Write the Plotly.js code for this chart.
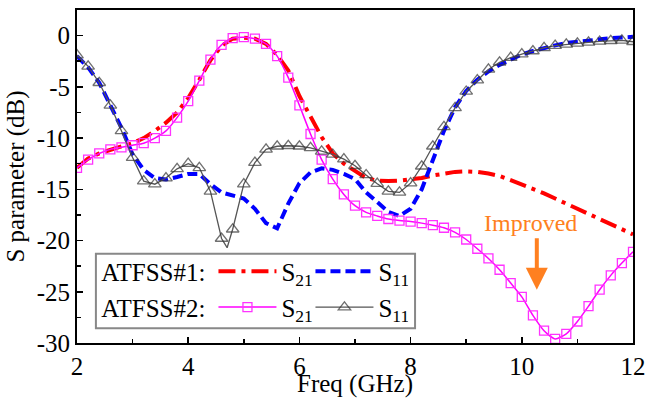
<!DOCTYPE html>
<html>
<head>
<meta charset="utf-8">
<script src="https://cdn.plot.ly/plotly-3.0.1.min.js"></script>
<style>
html,body{margin:0;padding:0;background:#fff;}
#chart{width:658px;height:398px;}
</style>
</head>
<body>
<div id="chart"></div>
<script>
// Frequency grid (GHz), markers every 0.2 GHz
const freq = [2.0,2.2,2.4,2.6,2.8,3.0,3.2,3.4,3.6,3.8,4.0,4.2,4.4,4.6,4.8,5.0,5.2,5.4,5.6,5.8,6.0,6.2,6.4,6.6,6.8,7.0,7.2,7.4,7.6,7.8,8.0,8.2,8.4,8.6,8.8,9.0,9.2,9.4,9.6,9.8,10.0,10.2,10.4,10.6,10.8,11.0,11.2,11.4,11.6,11.8,12.0];

// ATFSS#1 S21 (dB)
const s21_1 = [-12.9,-12.0,-11.5,-11.1,-10.8,-10.5,-10.0,-9.3,-8.5,-7.5,-6.1,-4.3,-2.4,-1.0,-0.3,-0.2,-0.3,-0.8,-1.9,-3.4,-5.9,-7.9,-9.9,-11.5,-12.5,-13.2,-13.9,-14.15,-14.2,-14.15,-14.05,-13.9,-13.65,-13.45,-13.3,-13.25,-13.3,-13.45,-13.7,-14.1,-14.5,-14.95,-15.4,-15.9,-16.4,-16.95,-17.5,-18.0,-18.5,-18.95,-19.4];

// ATFSS#1 S11 (dB)
const s11_1 = [-2.0,-3.1,-4.6,-6.7,-9.0,-11.6,-13.1,-13.9,-14.05,-13.8,-13.5,-13.5,-14.5,-15.3,-15.6,-15.9,-16.9,-18.3,-18.8,-16.4,-14.4,-13.35,-12.95,-13.1,-13.5,-14.0,-15.3,-16.3,-17.2,-17.6,-16.9,-15.0,-12.2,-9.3,-7.0,-5.4,-4.3,-3.5,-2.85,-2.3,-1.85,-1.5,-1.2,-0.95,-0.72,-0.58,-0.45,-0.33,-0.25,-0.18,-0.12];

// ATFSS#2 S21 (dB)
const s21_2 = [-12.9,-12.1,-11.5,-11.1,-10.9,-10.7,-10.5,-10.0,-9.3,-8.0,-6.4,-4.4,-2.35,-0.9,-0.25,-0.15,-0.3,-0.8,-2.0,-4.1,-6.8,-9.6,-12.1,-14.0,-15.5,-16.6,-17.25,-17.6,-17.9,-18.05,-18.15,-18.3,-18.5,-18.75,-19.2,-19.9,-20.8,-21.75,-22.85,-24.15,-25.5,-27.3,-28.8,-29.6,-29.1,-27.9,-26.4,-24.8,-23.4,-22.2,-21.1];

// ATFSS#2 S11 (dB); extra frequency 4.7 GHz is the sharp dip between markers
const freq_s11_2 = [2.0,2.2,2.4,2.6,2.8,3.0,3.2,3.4,3.6,3.8,4.0,4.2,4.4,4.6,4.7,4.8,5.0,5.2,5.4,5.6,5.8,6.0,6.2,6.4,6.6,6.8,7.0,7.2,7.4,7.6,7.8,8.0,8.2,8.4,8.6,8.8,9.0,9.2,9.4,9.6,9.8,10.0,10.2,10.4,10.6,10.8,11.0,11.2,11.4,11.6,11.8,12.0];
const s11_2 = [-1.9,-3.0,-4.6,-6.8,-9.3,-11.9,-14.2,-14.5,-13.9,-13.0,-12.5,-12.9,-15.2,-19.8,-20.7,-18.9,-14.5,-12.4,-11.1,-10.8,-10.75,-10.8,-10.95,-11.3,-11.6,-12.05,-12.7,-13.6,-14.45,-15.2,-15.3,-14.4,-12.75,-10.8,-8.9,-7.05,-5.45,-4.35,-3.3,-2.6,-2.15,-1.8,-1.5,-1.2,-0.98,-0.85,-0.75,-0.65,-0.57,-0.5,-0.47,-0.6];
const dipFreqs = [4.7];

// Tick labels
const xTicks = [2,4,6,8,10,12];
const yTicks = [-30,-25,-20,-15,-10,-5,0];

const FONT = 'Liberation Serif';
const FS = 25;

const traces = [
  {x: freq, y: s21_1, mode: 'lines', name: 'S<sub>21</sub>', legend: 'legend',
   line: {color: '#ff0000', width: 4, dash: '17px,6px,4px,6px'}},
  {x: freq, y: s11_1, mode: 'lines', name: 'S<sub>11</sub>', legend: 'legend',
   line: {color: '#0000ff', width: 4, dash: '10px,5px'}},
  {x: freq, y: s21_2, mode: 'lines+markers', name: 'S<sub>21</sub>', legend: 'legend2',
   line: {color: '#ff00ff', width: 1.5, shape: 'spline', smoothing: 0.6},
   marker: {symbol: 'square-open', size: 9, color: '#ff33ff', line: {width: 1.3}}},
  {x: freq_s11_2, y: s11_2, mode: 'lines+markers', name: 'S<sub>11</sub>', legend: 'legend2',
   line: {color: '#555555', width: 1.3},
   marker: {symbol: 'triangle-up-open', size: freq_s11_2.map(f => dipFreqs.includes(f) ? 0 : 11), color: '#333333', line: {width: 1.3}}}
];

const legendCommon = {
  orientation: 'h', xanchor: 'left', yanchor: 'middle',
  bgcolor: 'rgba(0,0,0,0)', borderwidth: 0,
  font: {family: FONT, size: FS, color: '#000'},
  itemwidth: 58, tracegroupgap: 0,
  entrywidth: 24, entrywidthmode: 'pixels'
};

const layout = {
  width: 658, height: 398,
  margin: {l: 77, r: 25, t: 10, b: 55},
  paper_bgcolor: '#fff', plot_bgcolor: '#fff',
  font: {family: FONT, size: FS, color: '#000'},
  showlegend: true,
  xaxis: {
    range: [2, 12], tickvals: xTicks, ticktext: xTicks.map(String),
    ticks: 'inside', ticklen: 6, tickwidth: 1.5, tickcolor: '#000',
    minor: {dtick: 1, ticks: 'inside', ticklen: 4, tickwidth: 1.5, tickcolor: '#000'},
    showline: true, linecolor: '#000', linewidth: 2, mirror: true,
    showgrid: false, zeroline: false,
    tickfont: {family: FONT, size: FS},
    title: {text: 'Freq (GHz)', font: {family: FONT, size: FS}, standoff: 2}
  },
  yaxis: {
    range: [-30, 2.5], tickvals: yTicks, ticktext: yTicks.map(String),
    ticks: 'inside', ticklen: 6, tickwidth: 1.5, tickcolor: '#000',
    minor: {dtick: 2.5, ticks: 'inside', ticklen: 4, tickwidth: 1.5, tickcolor: '#000'},
    showline: true, linecolor: '#000', linewidth: 2, mirror: true,
    showgrid: false, zeroline: false,
    tickfont: {family: FONT, size: FS},
    title: {text: 'S parameter (dB)', font: {family: FONT, size: FS}, standoff: 5}
  },
  legend: Object.assign({}, legendCommon, {x: 0.04, y: 0.215, title: {text: 'ATFSS#1:', side: 'left', font: {family: FONT, size: FS}}}),
  legend2: Object.assign({}, legendCommon, {x: 0.04, y: 0.107, title: {text: 'ATFSS#2:', side: 'left', font: {family: FONT, size: FS}}}),
  shapes: [
    {type: 'rect', xref: 'paper', yref: 'paper', x0: 0.034, x1: 0.608, y0: 0.044, y1: 0.268,
     line: {color: '#888888', width: 2}, fillcolor: 'rgba(255,255,255,0)', layer: 'above'}
  ],
  annotations: [
    {x: 10.15, y: -18.3, xref: 'x', yref: 'y', text: 'Improved', showarrow: false,
     font: {family: FONT, size: 24, color: '#ff8020'}},
    {x: 10.27, y: -24.8, xref: 'x', yref: 'y', text: '', showarrow: true,
     ax: 0, ay: -53, arrowhead: 2, arrowsize: 1.1, arrowwidth: 4, arrowcolor: '#ff8020'}
  ]
};

Plotly.newPlot('chart', traces, layout, {displayModeBar: false, staticPlot: true});
</script>
</body>
</html>
